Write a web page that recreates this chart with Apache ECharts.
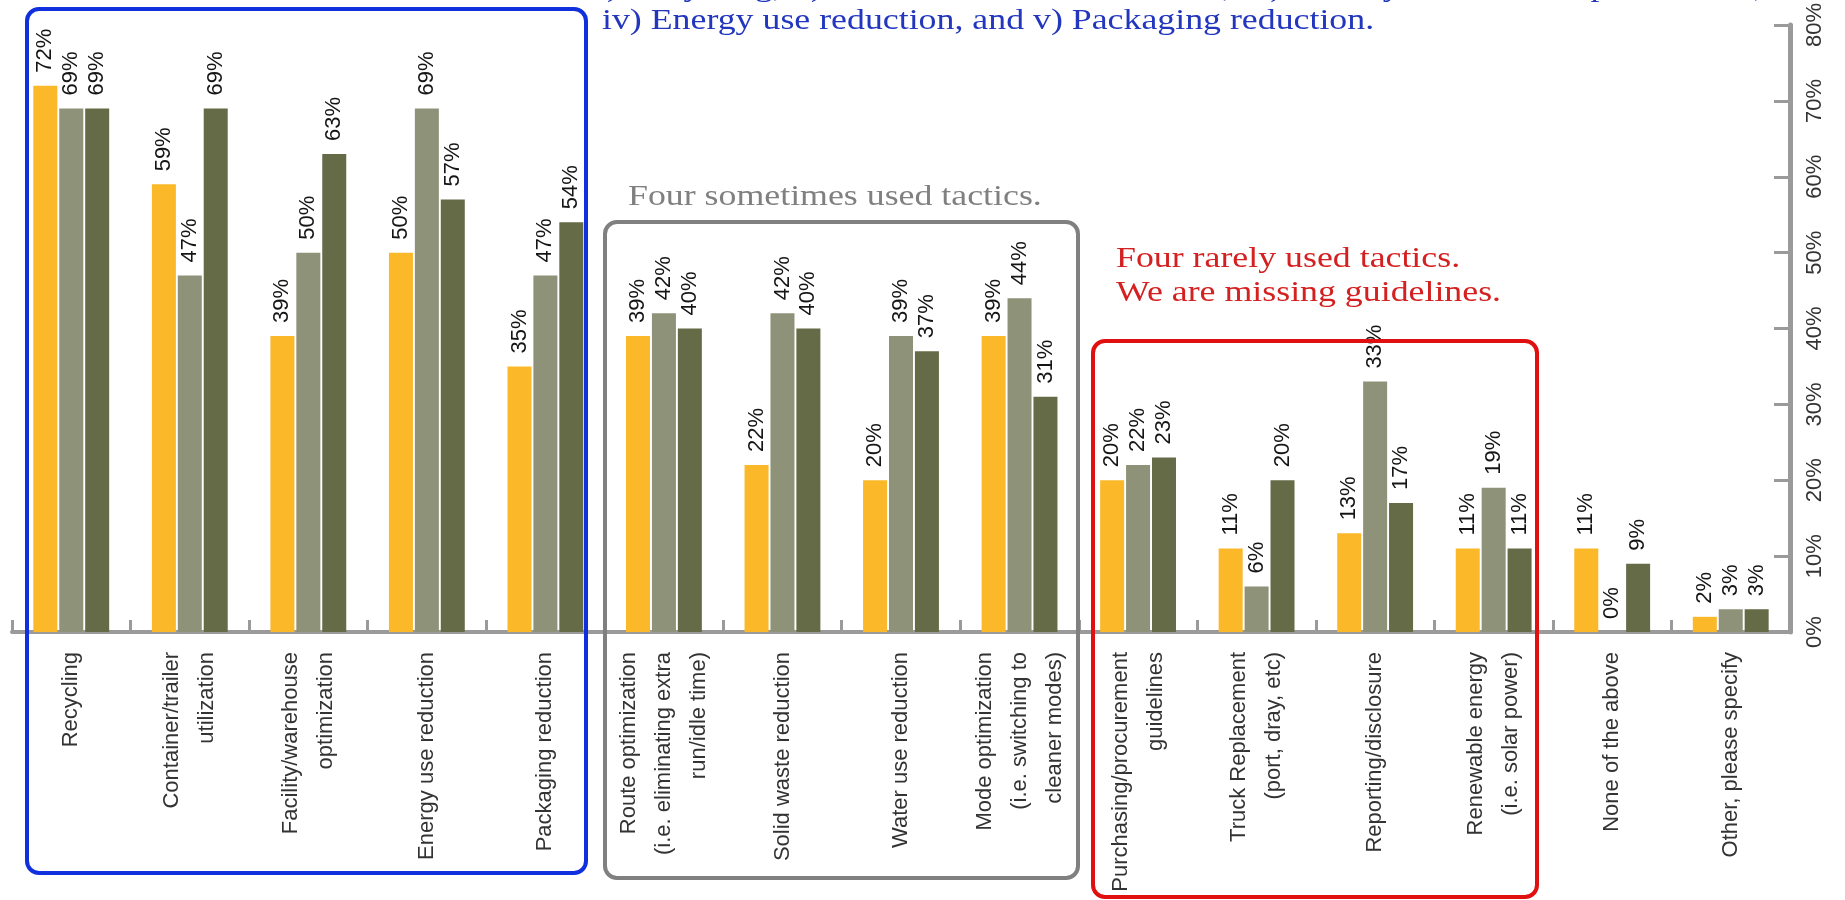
<!DOCTYPE html>
<html>
<head>
<meta charset="utf-8">
<script src="https://cdn.jsdelivr.net/npm/echarts@6/dist/echarts.min.js"></script>
<style>
  html, body { margin: 0; padding: 0; background: #ffffff; }
  #chart { width: 1845px; height: 900px; }
</style>
</head>
<body>
<div id="chart"></div>
<script>
// Sustainability tactics in use, three respondent groups
const categories = [
  'Recycling',
  'Container/trailer\nutilization',
  'Facility/warehouse\noptimization',
  'Energy use reduction',
  'Packaging reduction',
  'Route optimization\n(i.e. eliminating extra\nrun/idle time)',
  'Solid waste reduction',
  'Water use reduction',
  'Mode optimization\n(i.e. switching to\ncleaner modes)',
  'Purchasing/procurement\nguidelines',
  'Truck Replacement\n(port, dray, etc)',
  'Reporting/disclosure',
  'Renewable energy\n(i.e. solar power)',
  'None of the above',
  'Other, please specify'
];
const groupA = [72, 59, 39, 50, 35, 39, 22, 20, 39, 20, 11, 13, 11, 11, 2];
const groupB = [69, 47, 50, 69, 47, 42, 42, 39, 44, 22, 6, 33, 19, 0, 3];
const groupC = [69, 69, 63, 57, 54, 40, 40, 37, 31, 23, 20, 17, 11, 9, 3];
const seriesNames = ['Group A', 'Group B', 'Group C'];
const seriesColors = ['#FBB829', '#8D9279', '#646B46'];

// value axis: 0% .. 80% in steps of 10%
const yMin = 0, yMax = 80, yStep = 10;

// callout texts
const topNote = [
  'i) Recycling, ii) Container/trailer utilization, iii) Facility/warehouse optimization,',
  'iv) Energy use reduction, and v) Packaging reduction.'
];
const midNote = ['Four sometimes used tactics.'];
const lowNote = ['Four rarely used tactics.', 'We are missing guidelines.'];

const sansFont = '"Liberation Sans", Arial, sans-serif';
const serifFont = '"Liberation Serif", "Times New Roman", serif';
const axisGray = '#9a9a9a';

const chart = echarts.init(document.getElementById('chart'), null, { renderer: 'canvas' });

function barSeries(name, data, color) {
  return {
    name: name,
    type: 'bar',
    data: data,
    barWidth: 24,
    barGap: '8%',
    itemStyle: { color: color },
    label: {
      show: true,
      position: 'top',
      distance: 13,
      rotate: 90,
      align: 'left',
      verticalAlign: 'middle',
      formatter: '{c}%',
      fontFamily: sansFont,
      fontSize: 22,
      color: '#151515'
    },
    emphasis: { disabled: true }
  };
}

function noteText(x, y, text, color) {
  return {
    type: 'text',
    x: x,
    y: y,
    scaleX: 1.235,
    style: {
      text: text,
      font: '29px ' + serifFont,
      fill: color,
      align: 'left',
      verticalAlign: 'middle'
    },
    z: 10
  };
}

function noteBox(x, y, w, h, color) {
  return {
    type: 'rect',
    shape: { x: x, y: y, width: w, height: h, r: 12 },
    style: { fill: 'none', stroke: color, lineWidth: 4 },
    z: 9
  };
}

const option = {
  backgroundColor: '#ffffff',
  animation: false,
  grid: { left: 12, right: 55, top: 18, bottom: 268, containLabel: false },
  xAxis: {
    type: 'category',
    data: categories,
    axisLine: { show: true, lineStyle: { color: axisGray, width: 4 } },
    axisTick: { show: true, inside: true, length: 12, lineStyle: { color: axisGray, width: 3 } },
    axisLabel: {
      interval: 0,
      rotate: 90,
      margin: 20,
      fontFamily: sansFont,
      fontSize: 22,
      lineHeight: 35,
      color: '#333333'
    }
  },
  yAxis: {
    type: 'value',
    position: 'right',
    min: yMin,
    max: yMax,
    interval: yStep,
    splitLine: { show: false },
    axisLine: { show: true, lineStyle: { color: axisGray, width: 5 } },
    axisTick: { show: true, inside: true, length: 16, lineStyle: { color: axisGray, width: 3 } },
    axisLabel: {
      rotate: 90,
      margin: 14,
      formatter: '{value}%',
      fontFamily: sansFont,
      fontSize: 22,
      color: '#333333'
    }
  },
  series: [
    barSeries(seriesNames[0], groupA, seriesColors[0]),
    barSeries(seriesNames[1], groupB, seriesColors[1]),
    barSeries(seriesNames[2], groupC, seriesColors[2])
  ],
  graphic: [
    noteBox(27, 9, 559, 864, '#1030DD'),
    noteBox(605, 222, 473, 656, '#808080'),
    noteBox(1093, 341, 444, 556, '#E01010'),
    noteText(597, -12, topNote[0], '#2236BE'),
    noteText(602, 21, topNote[1], '#2236BE'),
    noteText(628, 197, midNote[0], '#808080'),
    noteText(1116, 259, lowNote[0], '#D42020'),
    noteText(1116, 293, lowNote[1], '#D42020')
  ]
};

chart.setOption(option);
</script>
</body>
</html>
